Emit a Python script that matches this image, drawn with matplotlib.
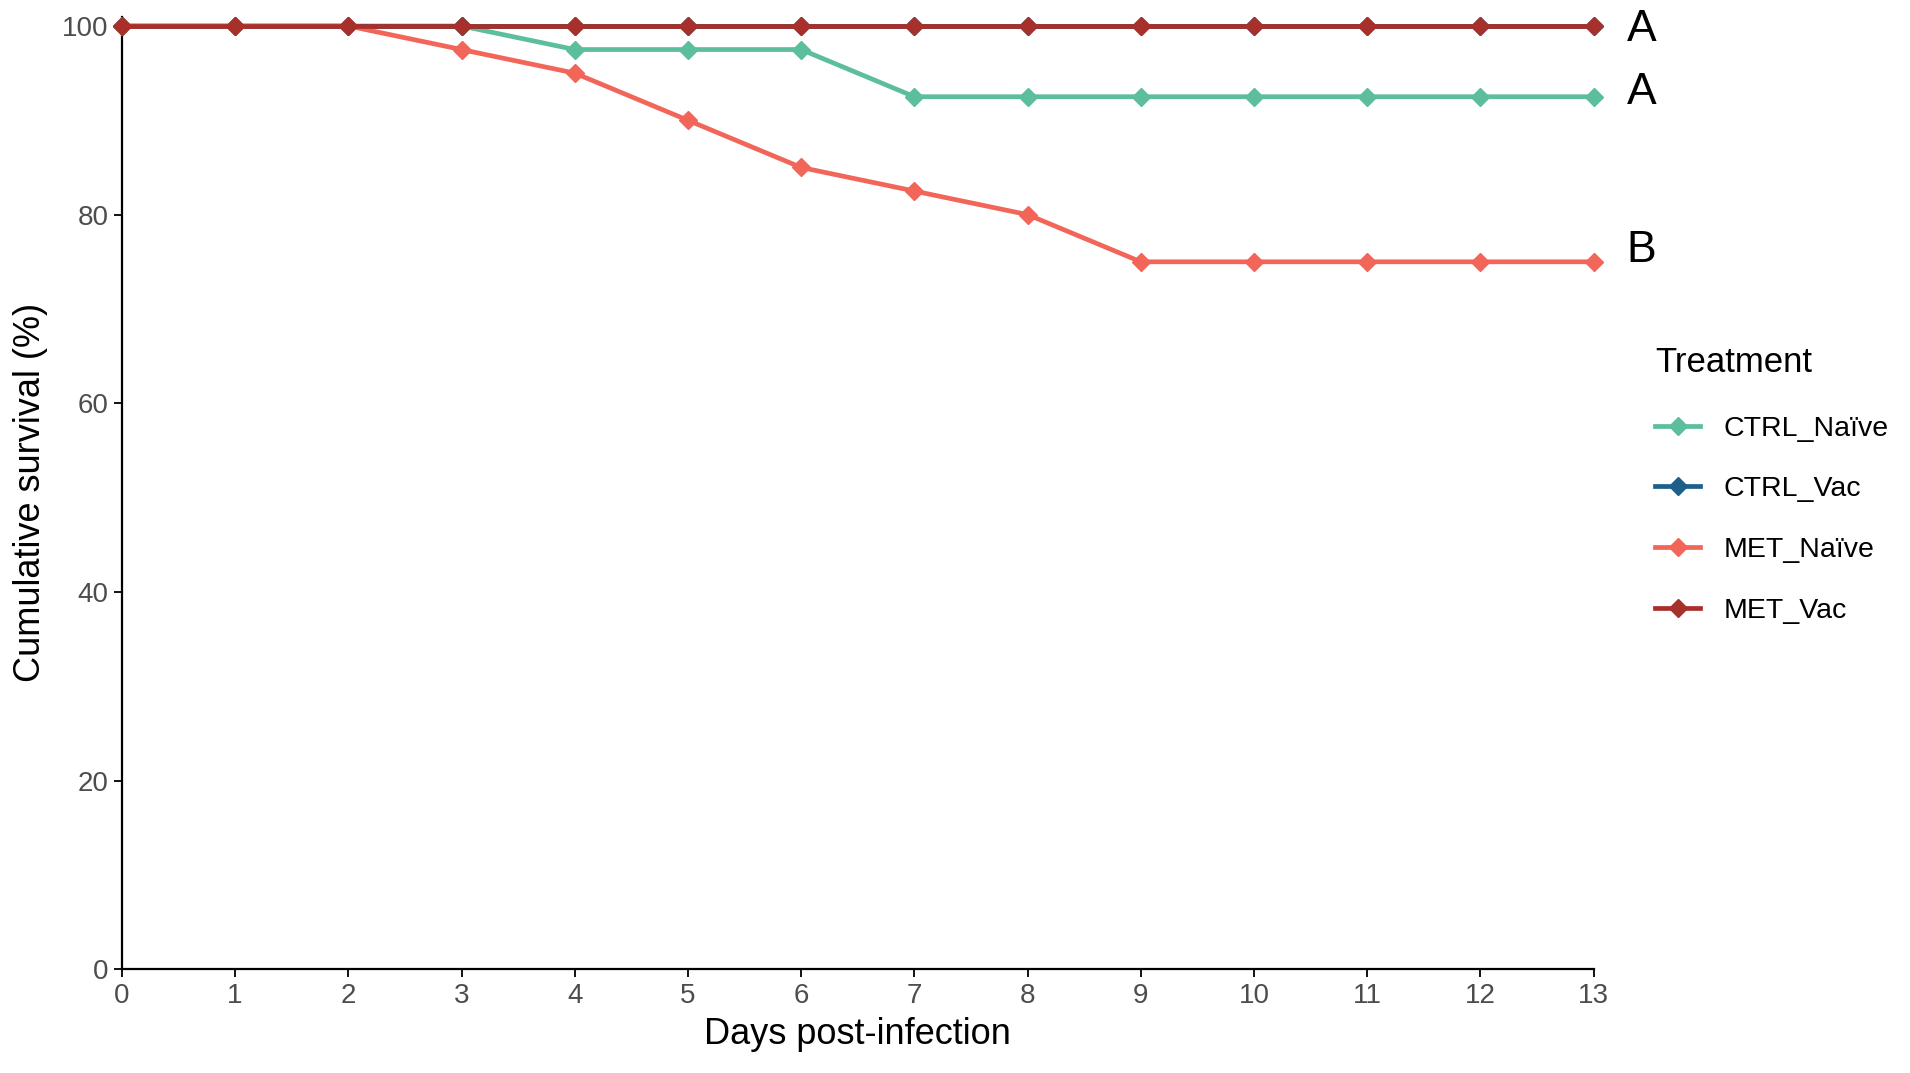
import matplotlib
matplotlib.use("Agg")
import matplotlib.pyplot as plt

plt.rcParams["font.family"] = ["Liberation Sans", "DejaVu Sans"]

days = list(range(14))
groups = ["CTRL_Naïve", "CTRL_Vac", "MET_Naïve", "MET_Vac"]
ctrl_naive = [100, 100, 100, 100, 97.5, 97.5, 97.5, 92.5, 92.5, 92.5, 92.5, 92.5, 92.5, 92.5]
ctrl_vac = [100] * 14
met_naive = [100, 100, 100, 97.5, 95, 90, 85, 82.5, 80, 75, 75, 75, 75, 75]
met_vac = [100] * 14
letters = ["A", "A", "B"]
letter_y = [99.6, 92.9, 76.2]

colors = ["#5CBE9B", "#1D5F8A", "#F2665A", "#A8302A"]
series = [ctrl_naive, ctrl_vac, met_naive, met_vac]

fig = plt.figure(figsize=(19.10, 10.73), dpi=100)
ax = fig.add_axes([0.0638, 0.0966, 0.7706, 0.888])

for name, vals, col in zip(groups, series, colors):
    ax.plot(days, vals, color=col, lw=3.4, marker="D", markersize=9,
            label=name, clip_on=False, zorder=3)

for t, y in zip(letters, letter_y):
    ax.text(13.42, y, t, fontsize=32, ha="center", va="center", clip_on=False)

ax.set_xlim(0, 13)
ax.set_ylim(0, 101)
ax.set_xticks(days)
ax.set_yticks([0, 20, 40, 60, 80, 100])
ax.tick_params(axis="both", labelsize=20, labelcolor="#4D4D4D", length=6, width=1.3,
               direction="out")
ax.spines["top"].set_visible(False)
ax.spines["right"].set_visible(False)
ax.spines["left"].set_linewidth(1.6)
ax.spines["bottom"].set_linewidth(1.6)
ax.set_xlabel("Days post-infection", fontsize=26, labelpad=6)
ax.set_ylabel("Cumulative survival (%)", fontsize=26, labelpad=10)

leg = fig.legend(loc="upper left", bbox_to_anchor=(0.853, 0.701), title="Treatment",
                 fontsize=20.5, title_fontsize=25, frameon=False, handlelength=1.6,
                 labelspacing=1.22, handletextpad=0.8)
leg._legend_box.align = "left"
leg._legend_box.sep = 26

fig.savefig("out.png", dpi=100)
